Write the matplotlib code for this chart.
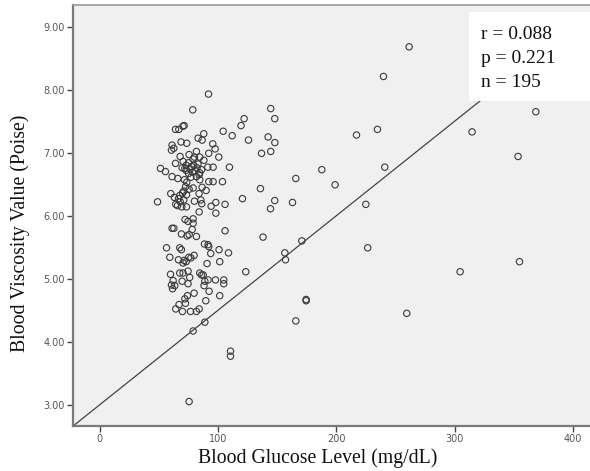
import matplotlib
matplotlib.use("Agg")
import matplotlib.pyplot as plt
from matplotlib.patches import Rectangle

glucose = [
    261.5, 239.8, 368.6, 217.0, 234.7, 314.7, 353.6, 165.7, 187.7, 198.9,
    240.9, 162.9, 224.9, 170.8, 226.5, 354.8, 304.6, 174.4, 174.4, 165.7,
    259.5, 156.4, 157.0, 110.5, 110.5, 75.5, 78.9, 88.8, 138.0, 123.4,
    144.3, 147.9, 135.8, 120.6, 144.5, 147.9, 122.0, 119.4, 91.9, 78.6,
    125.7, 142.3, 148.0, 144.5, 136.7, 111.9, 104.3, 109.6, 105.9, 105.9,
    108.8, 101.4, 100.8, 104.8, 104.8, 101.4, 100.6, 103.7,
    64.0, 66.8, 70.3, 71.3, 87.9, 83.1, 86.5, 68.7, 73.5, 61.1,
    62.6, 60.6, 95.5, 97.5, 92.1, 81.7, 75.5, 67.9, 84.5, 78.9,
    80.0, 51.3, 55.5, 64.0, 69.6, 71.9, 77.5, 82.2, 84.5, 91.3,
    95.8, 61.1, 75.0, 78.4, 81.7, 84.0, 92.1, 95.8, 73.5, 84.5,
    78.9, 89.9, 71.0, 73.3, 60.0, 67.6, 69.9, 83.9, 48.8, 64.2,
    65.7, 69.3, 80.0, 85.4, 86.2, 94.1, 98.1, 98.1, 84.0,
    72.1, 74.6, 78.9, 61.1, 62.6, 69.0, 73.8, 75.5, 81.7,
    56.4, 67.6, 69.0, 59.2, 66.5, 70.4, 71.3, 75.2, 79.7, 88.5,
    91.5, 92.1, 93.8, 90.7, 59.8, 67.6, 70.4, 74.6, 84.5, 86.0,
    69.6, 62.0, 60.6, 61.5, 74.6, 88.8, 91.5, 88.1, 97.8, 92.4,
    79.7, 74.1, 71.9, 67.0, 72.4, 89.6, 64.2, 69.9, 76.7, 81.7, 84.0,
    70.5, 73.0, 75.0, 76.5, 79.5, 80.5, 83.0, 86.0, 73.0, 77.0,
    71.5, 66.5, 68.0, 71.0, 63.0, 72.5, 75.5, 86.5, 66.0, 88.0,
    73.3, 78.9, 78.1, 73.0, 77.0, 87.4, 63.4, 76.0,
]
viscosity = [
    8.68, 8.21, 7.65, 7.28, 7.37, 7.33, 6.94, 6.59, 6.73, 6.49,
    6.77, 6.21, 6.18, 5.60, 5.49, 5.27, 5.11, 4.67, 4.65, 4.33,
    4.45, 5.41, 5.30, 3.85, 3.77, 3.05, 4.17, 4.31, 5.66, 5.11,
    6.11, 6.24, 6.43, 6.27, 7.70, 7.54, 7.54, 7.43, 7.93, 7.68,
    7.20, 7.25, 7.16, 7.02, 6.99, 7.27, 7.34, 6.77, 6.18, 5.76,
    5.41, 5.27, 5.46, 4.98, 4.92, 4.73, 6.93, 6.54,
    7.37, 7.37, 7.42, 7.43, 7.30, 7.23, 7.20, 7.17, 7.15, 7.12,
    7.07, 7.04, 7.14, 7.06, 6.99, 7.02, 6.97, 6.94, 6.93, 6.90,
    6.93, 6.75, 6.70, 6.83, 6.76, 6.75, 6.78, 6.76, 6.68, 6.77,
    6.77, 6.62, 6.67, 6.69, 6.62, 6.65, 6.54, 6.54, 6.53, 6.57,
    6.44, 6.40, 6.39, 6.33, 6.35, 6.32, 6.36, 6.35, 6.22, 6.18,
    6.16, 6.14, 6.23, 6.25, 6.19, 6.15, 6.21, 6.04, 6.06,
    5.94, 5.91, 5.88, 5.80, 5.80, 5.71, 5.68, 5.70, 5.67,
    5.49, 5.49, 5.46, 5.34, 5.30, 5.25, 5.29, 5.34, 5.37, 5.55,
    5.54, 5.51, 5.40, 5.24, 5.07, 5.09, 5.09, 5.12, 5.09, 5.06,
    4.96, 4.97, 4.90, 4.84, 4.92, 4.96, 4.98, 4.89, 4.98, 4.80,
    4.77, 4.73, 4.68, 4.59, 4.61, 4.65, 4.52, 4.48, 4.48, 4.48, 4.52,
    6.86, 6.80, 6.84, 6.74, 6.80, 6.71, 6.82, 6.73, 6.72, 6.61,
    6.57, 6.27, 6.22, 6.25, 6.29, 6.46, 6.42, 6.45, 6.59, 6.88,
    6.14, 5.95, 5.78, 5.27, 5.33, 5.06, 4.89, 5.02,
]

x_ticks = [0, 100, 200, 300, 400]
y_ticks = [3.0, 4.0, 5.0, 6.0, 7.0, 8.0, 9.0]
line_intercept = 3.0
line_slope = 0.015
stats_lines = ["r = 0.088", "p = 0.221", "n = 195"]
x_label = "Blood Glucose Level (mg/dL)"
y_label = "Blood Viscosity Value (Poise)"

fig = plt.figure(figsize=(5.9, 4.71), dpi=100)
ax = fig.add_axes([73 / 590, 45 / 471, 517 / 590, 421 / 471])
ax.set_facecolor("#f0f0f0")
xmin, xmax = -22.65, 414.4
ymin, ymax = 2.662, 9.344
ax.set_xlim(xmin, xmax)
ax.set_ylim(ymin, ymax)

xs = [xmin, xmax]
ax.plot(xs, [line_intercept + line_slope * x for x in xs], color="#444444",
        linewidth=0.9, zorder=2)

ax.scatter(glucose, viscosity, s=21, facecolors="none", edgecolors="#3a3a3a",
           linewidths=0.8, zorder=3)

# white stats box (in axes coordinates)
box = Rectangle((0.7655, 0.7722), 0.24, 0.2118, transform=ax.transAxes,
                facecolor="white", edgecolor="none", zorder=4, clip_on=False)
ax.add_patch(box)
line_y = [0.929, 0.872, 0.817]
for txt, yy in zip(stats_lines, line_y):
    ax.text(0.789, yy, txt, transform=ax.transAxes, va="center", ha="left",
            family="Liberation Serif", fontsize=14, zorder=5, color="#111111")

ax.set_xticks(x_ticks)
ax.set_xticklabels([str(t) for t in x_ticks])
ax.set_yticks(y_ticks)
ax.set_yticklabels([f"{t:.2f}" for t in y_ticks])
ax.tick_params(axis="both", direction="out", length=4, width=1.0,
               color="#444444", labelsize=7, labelcolor="#555555", pad=2)

for side in ["left", "bottom"]:
    ax.spines[side].set_color("#7a7a7a")
    ax.spines[side].set_linewidth(1.6)
ax.spines["top"].set_color("#999999")
ax.spines["top"].set_linewidth(1.2)
ax.spines["right"].set_visible(False)

ax.set_xlabel(x_label, family="Liberation Serif", fontsize=14.2,
              color="#111111")
ax.set_ylabel(y_label, family="Liberation Serif", fontsize=14.2,
              color="#111111")
ax.xaxis.set_label_coords(0.473, -0.052)
ax.yaxis.set_label_coords(-0.083, 0.458)

fig.savefig("out.png", dpi=100, facecolor="white")
